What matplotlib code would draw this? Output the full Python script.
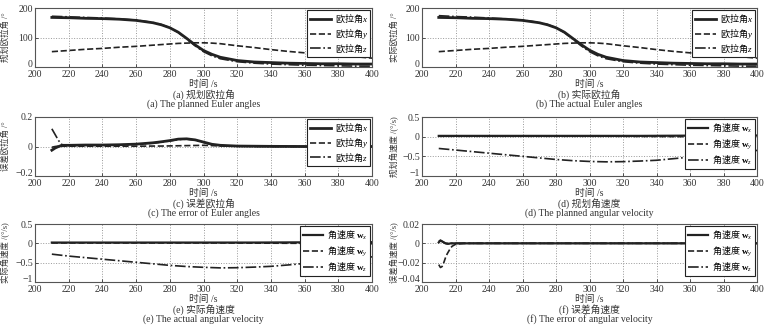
import matplotlib
matplotlib.use('Agg')
import matplotlib.pyplot as plt
from matplotlib.transforms import ScaledTranslation

plt.rcParams['font.family'] = ['Liberation Serif', 'Noto Sans CJK SC']
plt.rcParams['mathtext.fontset'] = 'custom'
plt.rcParams['mathtext.rm'] = 'Liberation Serif'
plt.rcParams['mathtext.it'] = 'Liberation Serif:italic'
plt.rcParams['mathtext.bf'] = 'Liberation Serif:bold'
plt.rcParams['axes.unicode_minus'] = True

# 欧拉角 (规划)
t_ang = [210, 220, 230, 240, 250, 260, 270, 275, 280, 285, 290, 295, 300,
         305, 310, 320, 330, 340, 350, 360, 370, 380, 390, 400]
plan_x = [168, 167, 165, 164, 162, 158, 150, 143, 133, 118, 97, 75, 56,
          43, 33, 22, 17, 15, 13, 12, 11, 11, 10, 10]
plan_y = [52, 56, 60, 63, 67, 70, 74, 76, 78, 80, 81, 82, 82,
          81, 79, 72, 66, 59, 53, 48, 44, 40, 35, 30]
plan_z = [172, 170, 168, 166, 163, 159, 151, 144, 133, 117, 95, 72, 52,
          38, 28, 18, 13, 10, 8, 6, 5, 4, 3, 3]

# 欧拉角 (实际)
act_x = [168, 167, 165, 164, 162, 158, 150, 143, 133, 118, 97, 76, 57,
         43, 33, 22, 17, 15, 13, 12, 11, 11, 10, 10]
act_y = [52, 56, 60, 63, 67, 70, 74, 76, 78, 80, 81, 82, 82,
         81, 79, 72, 66, 59, 53, 48, 44, 40, 35, 30]
act_z = [174, 171, 169, 166, 163, 159, 151, 144, 133, 117, 95, 72, 52,
         38, 28, 18, 13, 10, 8, 6, 5, 4, 3, 3]

# 欧拉角误差
t_err = [210, 212, 214, 216, 218, 220, 230, 240, 250, 260, 270, 275, 280,
         285, 290, 295, 300, 305, 310, 320, 340, 360, 380, 400]
err_x = [-0.025, -0.01, 0.0, 0.008, 0.008, 0.008, 0.01, 0.01, 0.012, 0.016,
         0.025, 0.032, 0.04, 0.05, 0.052, 0.045, 0.03, 0.015, 0.008, 0.003,
         0.001, 0.0, 0.0, 0.0]
err_y = [-0.005, 0.0, 0.002, 0.002, 0.002, 0.002, 0.002, 0.002, 0.002,
         0.002, 0.003, 0.003, 0.004, 0.005, 0.006, 0.007, 0.008, 0.006,
         0.004, 0.002, 0.001, 0.0, 0.0, 0.0]
err_z = [0.12, 0.08, 0.04, 0.012, 0.01, 0.008, 0.009, 0.009, 0.011, 0.015,
         0.023, 0.03, 0.038, 0.047, 0.05, 0.043, 0.028, 0.013, 0.006, 0.002,
         0.0, 0.0, 0.0, 0.0]

# 角速度 (规划 / 实际)
t_w = [210, 220, 230, 240, 250, 260, 270, 280, 290, 300, 310, 320, 330,
       340, 350, 360, 370, 380, 390, 400]
plan_wx = [0.02, 0.02, 0.02, 0.02, 0.02, 0.02, 0.02, 0.02, 0.02, 0.02,
           0.02, 0.02, 0.02, 0.022, 0.024, 0.026, 0.028, 0.03, 0.03, 0.03]
plan_wy = [0.01, 0.01, 0.01, 0.01, 0.01, 0.01, 0.01, 0.01, 0.01, 0.01,
           0.01, 0.008, 0.006, 0.004, 0.002, 0.0, -0.004, -0.008, -0.01, -0.01]
plan_wz = [-0.30, -0.34, -0.38, -0.42, -0.46, -0.50, -0.54, -0.58, -0.61,
           -0.63, -0.64, -0.635, -0.62, -0.60, -0.56, -0.52, -0.48, -0.43,
           -0.38, -0.35]
act_wx = plan_wx[:]
act_wy = plan_wy[:]
act_wz = [-0.28, -0.33, -0.37, -0.41, -0.45, -0.49, -0.53, -0.57, -0.60,
          -0.62, -0.635, -0.63, -0.615, -0.595, -0.56, -0.52, -0.48, -0.43,
          -0.38, -0.35]

# 角速度误差
t_werr = [210, 211, 212, 213, 214, 215, 216, 217, 218, 219, 220, 222, 225,
          230, 260, 300, 340, 400]
werr_x = [0.001, 0.003, 0.002, 0.001, 0.0, -0.0005, -0.0005, 0.0, 0.0, 0.0,
          0.0, 0.0, 0.0, 0.0, 0.0, 0.0, 0.0, 0.0]
werr_y = [-0.022, -0.025, -0.024, -0.02, -0.015, -0.011, -0.008, -0.005,
          -0.003, -0.002, -0.001, -0.0005, 0.0, 0.0, 0.0, 0.0, 0.0, 0.0]
werr_z = [0.002, 0.003, 0.002, 0.001, 0.0, 0.0, 0.0, 0.0, 0.0, 0.0, 0.0,
          0.0, 0.0, 0.0, 0.0, 0.0, 0.0, 0.0]

txt = '#333333'
lc = '#222222'
W, H = 767, 328

fig = plt.figure(figsize=(W / 100, H / 100), dpi=100)

# 各子图位置 (像素): 左列 x 35-372, 右列 x 422-757
cols = [(35, 372), (422, 757)]
rows = [(8, 67), (117, 176), (224, 282)]

# 图例中文字用中文字体, 下标字母交给 mathtext
leg_font = {'family': 'Noto Sans CJK SC', 'size': 6.5}


def make_ax(r, c):
    x0, x1 = cols[c]
    y0, y1 = rows[r]
    ax = fig.add_axes([x0 / W, 1 - y1 / H, (x1 - x0) / W, (y1 - y0) / H])
    ax.set_xlim(200, 400)
    ax.set_xticks(range(200, 401, 20))
    ax.grid(True, linestyle=':', color='#999999', linewidth=0.7)
    ax.tick_params(direction='in', length=2.5, labelsize=7, colors=txt,
                   pad=1.5, width=0.6)
    ax.tick_params(axis='x', pad=2.5)
    for s in ax.spines.values():
        s.set_color('#555555')
        s.set_linewidth(0.8)
    return ax


def captions(r, c, cn, en):
    x0, x1 = cols[c]
    xc = (x0 + x1) / 2 / W
    yb = rows[r][1]
    fig.text(xc, 1 - (yb + 17) / H, '时间 /s', ha='center', va='center',
             fontsize=7, color=txt)
    fig.text(xc, 1 - (yb + 27.5) / H, cn, ha='center', va='center',
             fontsize=7, color=txt)
    fig.text(xc, 1 - (yb + 37.5) / H, en, ha='center', va='center',
             fontsize=7, color=txt)


def set_y(ax, c, ylim, yticks, yticklabels, ylabel):
    ax.set_ylim(*ylim)
    ax.set_yticks(yticks)
    ax.set_yticklabels(yticklabels)
    # 最下面的刻度数字稍微上移, 免得压住 x 轴的 200
    lab = ax.get_yticklabels()[0]
    lab.set_transform(lab.get_transform() +
                      ScaledTranslation(0, 2.5 / 72, fig.dpi_scale_trans))
    ax.set_ylabel(ylabel, fontsize=6, color=txt)
    ax.yaxis.set_label_coords(-0.075 if c == 0 else -0.068, 0.5)


def euler_panel(r, c, t, x, y, z, ylim, yticks, yticklabels, ylabel):
    ax = make_ax(r, c)
    ax.plot(t, x, '-', color=lc, lw=2.0, label='欧拉角$x$')
    ax.plot(t, y, '--', color=lc, lw=1.2, label='欧拉角$y$')
    ax.plot(t, z, '-.', color=lc, lw=1.2, label='欧拉角$z$')
    set_y(ax, c, ylim, yticks, yticklabels, ylabel)
    leg = ax.legend(loc='upper right', prop=leg_font, fancybox=False,
                    edgecolor='#222222', framealpha=1, handlelength=2.4,
                    borderaxespad=0.2, labelspacing=0.05, borderpad=0.25,
                    handletextpad=0.4)
    leg.get_frame().set_linewidth(0.8)
    return ax


def omega_panel(r, c, t, x, y, z, ylim, yticks, yticklabels, ylabel):
    ax = make_ax(r, c)
    ax.plot(t, x, '-', color=lc, lw=1.6, label=r'角速度 $\mathbf{w}_x$')
    ax.plot(t, y, '--', color=lc, lw=1.2, label=r'角速度 $\mathbf{w}_y$')
    ax.plot(t, z, '-.', color=lc, lw=1.2, label=r'角速度 $\mathbf{w}_z$')
    set_y(ax, c, ylim, yticks, yticklabels, ylabel)
    leg = ax.legend(loc='upper right', prop=leg_font, fancybox=False,
                    edgecolor='#222222', framealpha=1, handlelength=2.2,
                    borderaxespad=0.25, labelspacing=0.3, borderpad=0.3,
                    handletextpad=0.4)
    leg.get_frame().set_linewidth(0.8)
    return ax


euler_panel(0, 0, t_ang, plan_x, plan_y, plan_z, (0, 200), [0, 100, 200],
            ['0', '100', '200'], '规划欧拉角 /°')
captions(0, 0, '(a) 规划欧拉角', '(a) The planned Euler angles')

euler_panel(0, 1, t_ang, act_x, act_y, act_z, (0, 200), [0, 100, 200],
            ['0', '100', '200'], '实际欧拉角 /°')
captions(0, 1, '(b) 实际欧拉角', '(b) The actual Euler angles')

euler_panel(1, 0, t_err, err_x, err_y, err_z, (-0.2, 0.2), [-0.2, 0, 0.2],
            ['−0.2', '0', '0.2'], '误差欧拉角 /°')
captions(1, 0, '(c) 误差欧拉角', '(c) The error of Euler angles')

omega_panel(1, 1, t_w, plan_wx, plan_wy, plan_wz, (-1, 0.5),
            [-1, -0.5, 0, 0.5], ['−1', '−0.5', '0', '0.5'],
            '规划角速度 /(°/s)')
captions(1, 1, '(d) 规划角速度', '(d) The planned angular velocity')

omega_panel(2, 0, t_w, act_wx, act_wy, act_wz, (-1, 0.5),
            [-1, -0.5, 0, 0.5], ['−1', '−0.5', '0', '0.5'],
            '实际角速度 /(°/s)')
captions(2, 0, '(e) 实际角速度', '(e) The actual angular velocity')

omega_panel(2, 1, t_werr, werr_x, werr_y, werr_z, (-0.04, 0.02),
            [-0.04, -0.02, 0, 0.02], ['−0.04', '−0.02', '0', '0.02'],
            '误差角速度 /(°/s)')
captions(2, 1, '(f) 误差角速度', '(f) The error of angular velocity')

fig.savefig('out.png', dpi=100)
